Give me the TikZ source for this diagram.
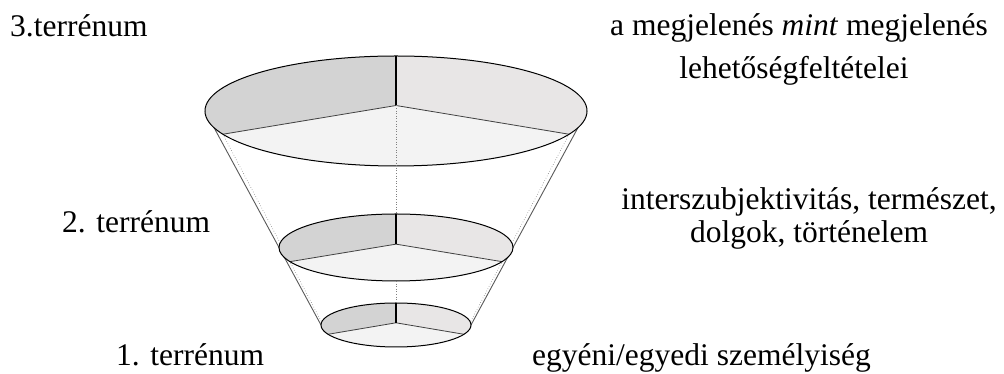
\documentclass[tikz,border=0pt]{standalone}
\usepackage{fontspec}
\setmainfont{Liberation Serif}
\usetikzlibrary{calc}
\definecolor{secA}{RGB}{211,211,211}
\definecolor{secB}{RGB}{232,230,230}
\definecolor{secC}{RGB}{243,243,243}
\tikzset{
  lbl/.style={font=\fontsize{31.5}{40}\selectfont, inner sep=0pt, text=black},
  rim/.style={draw=black, line width=1pt},
  spoke/.style={draw=black!75, line width=0.8pt},
  mainspoke/.style={draw=black, line width=1.2pt},
  cone/.style={draw=black!65, line width=0.9pt},
  guide/.style={draw=black!50, line width=0.6pt, dotted},
}
% \mylayer{name}{cx}{cy}{rx}{ry}
\newcommand{\mylayer}[5]{%
  \coordinate (#1c) at (#2,#3);
  \coordinate (#1h) at (#2,#3+0.1*#5);
  \coordinate (#1t) at ($(#1c)+(90:#4 and #5)$);
  \coordinate (#1l) at ($(#1c)+(205:#4 and #5)$);
  \coordinate (#1r) at ($(#1c)+(335:#4 and #5)$);
  \coordinate (#1w) at ($(#1c)+(180:#4 and #5)$);
  \coordinate (#1e) at ($(#1c)+(0:#4 and #5)$);
  \coordinate (#1s) at ($(#1c)+(270:#4 and #5)$);
}
\newcommand{\mydisc}[5]{%
  \fill[secA] (#1h) -- (#1t) arc[start angle=90, end angle=205, x radius=#4, y radius=#5] -- cycle;
  \fill[secB] (#1h) -- (#1t) arc[start angle=90, end angle=-25, x radius=#4, y radius=#5] -- cycle;
  \fill[secC] (#1h) -- (#1l) arc[start angle=205, end angle=335, x radius=#4, y radius=#5] -- cycle;
  \draw[spoke] (#1h) -- (#1l);
  \draw[spoke] (#1h) -- (#1r);
  \draw[mainspoke] (#1h) -- (#1t);
  \draw[rim] (#1c) ellipse[x radius=#4, y radius=#5];
}
\begin{document}
\begin{tikzpicture}[x=1pt,y=1pt]
\useasboundingbox (0,0) rectangle (1004,374);
\mylayer{T}{396}{263}{191}{55}
\mylayer{M}{396}{126.5}{117}{33.5}
\mylayer{B}{396}{49}{75}{22}
% cone edges
\draw[cone] (Tw) -- (Mw) -- (Bw);
\draw[cone] (Te) -- (Me) -- (Be);
\draw[guide] (Tl) -- (Ml) -- (Bl);
\draw[guide] (Tr) -- (Mr) -- (Br);
% discs
\mydisc{B}{396}{49}{75}{22}
\mydisc{M}{396}{126.5}{117}{33.5}
\mydisc{T}{396}{263}{191}{55}
% central axis
\draw[guide] (Th) -- (Mt);
\draw[guide] (Ms) -- (Bt);
% labels
\node[lbl, anchor=base west] (l3) at (10,337) {3.terrénum};
\node[lbl, anchor=base west] (l2) at (62,141) {2. terrénum};
\node[lbl, anchor=base west] (l1) at (116,8) {1. terrénum};
\node[lbl, anchor=base] (r3a) at (799,338) {a megjelenés \textit{mint} megjelenés};
\node[lbl, anchor=base] (r3b) at (794,295) {lehetőségfeltételei};
\node[lbl, anchor=base] (r2a) at (809,164) {interszubjektivitás, természet,};
\node[lbl, anchor=base] (r2b) at (809,131) {dolgok, történelem};
\node[lbl, anchor=base west] (r1) at (532,8) {egyéni/egyedi személyiség};
\end{tikzpicture}
\end{document}
